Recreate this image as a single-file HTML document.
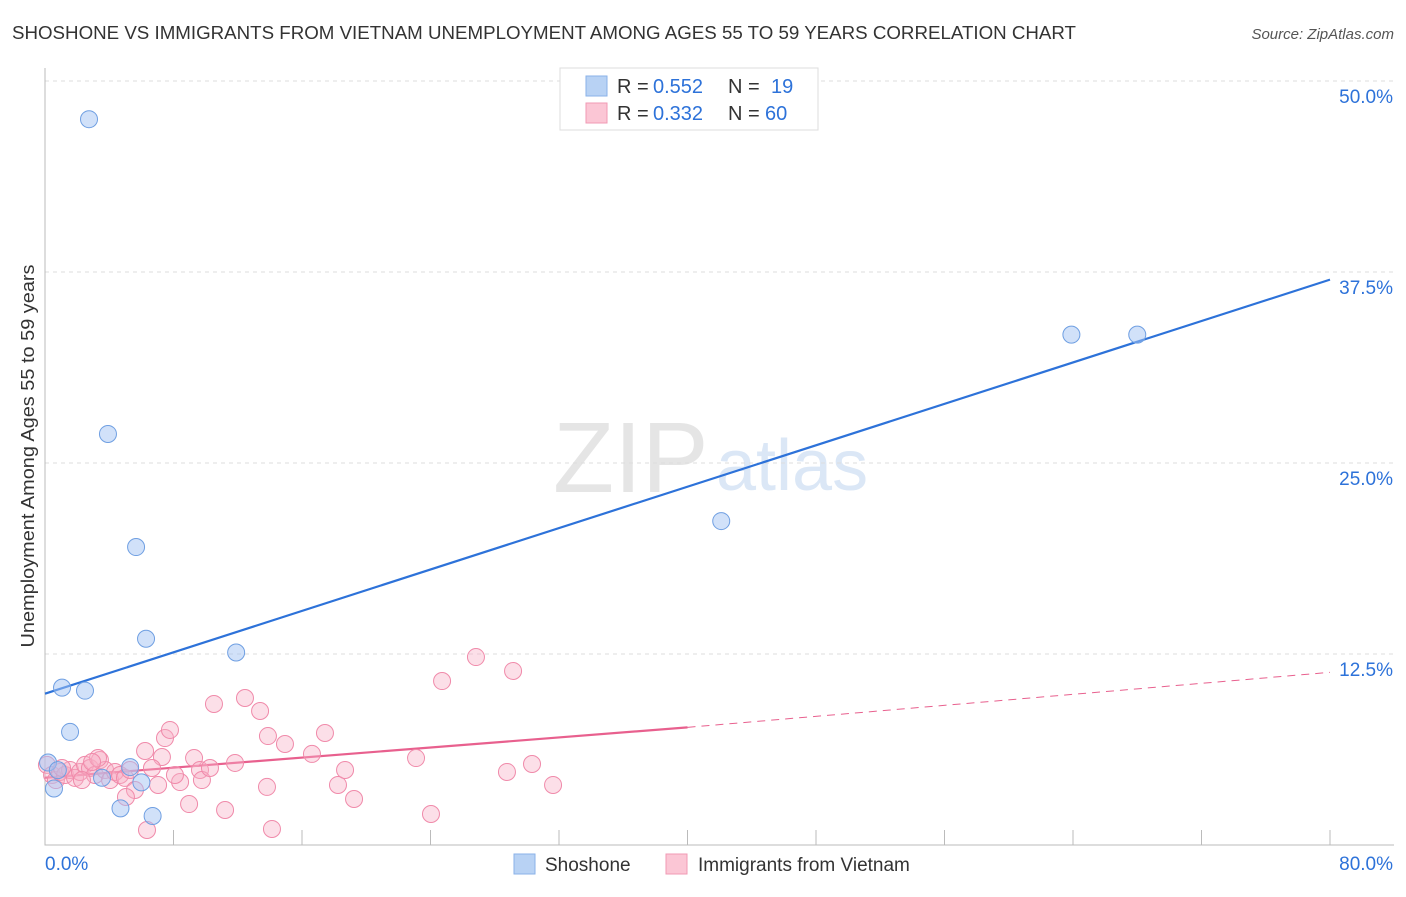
<!DOCTYPE html>
<html><head><meta charset="utf-8"><style>
body{margin:0;background:#fff;font-family:"Liberation Sans",sans-serif;}
svg text{font-family:"Liberation Sans",sans-serif;}
</style></head><body>
<svg id="chart" width="1406" height="892" xmlns="http://www.w3.org/2000/svg">
<text x="12" y="39" font-size="18" fill="#333" textLength="1064" lengthAdjust="spacingAndGlyphs">SHOSHONE VS IMMIGRANTS FROM VIETNAM UNEMPLOYMENT AMONG AGES 55 TO 59 YEARS CORRELATION CHART</text>
<text x="1394" y="39" font-size="15" fill="#555" text-anchor="end" font-style="italic">Source: ZipAtlas.com</text>
<text transform="translate(34,456) rotate(-90)" font-size="18" fill="#333" text-anchor="middle" textLength="383" lengthAdjust="spacingAndGlyphs">Unemployment Among Ages 55 to 59 years</text>
<g opacity="0.5">
<text x="553" y="492" font-size="100" fill="#ccc" font-family="Liberation Serif">ZIP</text>
<text x="716" y="490" font-size="72" fill="#b9d0ee">atlas</text>
</g>
<g id="grid"></g><g id="axes"></g><g id="lines"></g><g id="pts"></g>
<g>
<rect x="560" y="68" width="258" height="62" fill="#fff" stroke="#ddd"/>
<rect x="586" y="76" width="21" height="20" fill="#b8d2f4" stroke="#8ab2e8"/>
<rect x="586" y="103" width="21" height="20" fill="#fbc6d5" stroke="#f09ab4"/>
<text x="617" y="93" font-size="20" fill="#333">R =</text>
<text x="653" y="93" font-size="20" fill="#2d72d9">0.552</text>
<text x="728" y="93" font-size="20" fill="#333">N =</text>
<text x="771" y="93" font-size="20" fill="#2d72d9">19</text>
<text x="617" y="120" font-size="20" fill="#333">R =</text>
<text x="653" y="120" font-size="20" fill="#2d72d9">0.332</text>
<text x="728" y="120" font-size="20" fill="#333">N =</text>
<text x="765" y="120" font-size="20" fill="#2d72d9">60</text>
</g>
<g>
<rect x="514" y="854" width="21" height="20" fill="#b8d2f4" stroke="#8ab2e8"/>
<text x="545" y="871" font-size="19" fill="#333">Shoshone</text>
<rect x="666" y="854" width="21" height="20" fill="#fbc6d5" stroke="#f09ab4"/>
<text x="698" y="871" font-size="19" fill="#333">Immigrants from Vietnam</text>
</g>
</svg>
<script>
const yTicks=[12.5,25,37.5,50];
const yTickLabels=["12.5%","25.0%","37.5%","50.0%"];
const xTickVals=[0,8,16,24,32,40,48,56,64,72,80];
const shoshoneX=[2.74,3.92,5.67,6.29,11.9,1.06,2.49,1.56,42.1,63.9,68.0,0.19,0.56,3.55,5.3,6.0,4.7,6.7,0.8];
const shoshoneY=[47.5,26.9,19.5,13.5,12.6,10.3,10.1,7.4,21.2,33.4,33.4,5.4,3.7,4.4,5.1,4.1,2.4,1.9,4.9];
const vietX=[0.12,0.44,0.68,0.93,1.25,1.56,1.87,2.18,2.49,2.80,3.11,3.42,3.74,4.05,4.36,4.67,4.98,5.29,2.30,3.30,6.23,7.47,7.78,7.28,6.66,7.04,5.60,5.04,6.35,8.97,8.41,8.09,9.28,9.65,9.77,10.27,10.52,11.21,11.83,12.45,13.39,13.88,13.82,14.13,14.94,16.62,17.43,18.24,18.68,19.24,23.10,24.03,24.72,26.83,28.76,29.14,30.32,31.63,1.06,2.93];
const vietY=[5.24,4.58,4.25,4.78,4.58,4.91,4.39,4.78,5.24,5.04,4.58,5.56,4.91,4.25,4.78,4.58,4.39,4.91,4.25,5.69,6.15,7.00,7.53,5.76,5.04,3.93,3.60,3.14,0.98,2.68,4.12,4.58,5.69,4.91,4.25,5.04,9.23,2.29,5.37,9.62,8.77,7.13,3.80,1.05,6.61,5.96,7.33,3.93,4.91,3.01,5.69,2.03,10.73,12.30,4.78,11.39,5.30,3.93,5.04,5.43];
const blueLine=[9.9,37.0];
const pinkLine=[4.4,7.7,11.3];
const X=v=>45+v/80*1285, Y=v=>845-v*15.28;
const NS="http://www.w3.org/2000/svg";
function mk(p,t,a){const e=document.createElementNS(NS,t);for(const k in a)e.setAttribute(k,a[k]);document.getElementById(p).appendChild(e);return e;}
yTicks.forEach((v,i)=>{
 const g=mk('grid','line',{x1:45,x2:1394,y1:Y(v),y2:Y(v),stroke:'#ddd','stroke-dasharray':'4,4'});
 
 
 const t=mk('grid','text',{x:1393,y:Y(v)+22,'font-size':19,fill:'#2d72d9','text-anchor':'end'});
 t.textContent=yTickLabels[i];
 
 
});
const ax=mk('axes','path',{d:'M45 68V845H1394',stroke:'#bbb',fill:'none'});


xTickVals.forEach(v=>{const t=mk('axes','line',{x1:X(v),x2:X(v),y1:830,y2:845,stroke:'#bbb'});
 
 });
const xl0=mk('axes','text',{x:45,y:870,'font-size':19,fill:'#2d72d9'});xl0.textContent='0.0%';


const xl1=mk('axes','text',{x:1393,y:870,'font-size':19,fill:'#2d72d9','text-anchor':'end'});xl1.textContent='80.0%';


vietX.forEach((v,i)=>{const c=mk('pts','circle',{cx:X(v),cy:Y(vietY[i]),r:8.5,fill:'rgba(248,175,198,0.4)',stroke:'#f08aaa','stroke-width':1});
 
 });
shoshoneX.forEach((v,i)=>{const c=mk('pts','circle',{cx:X(v),cy:Y(shoshoneY[i]),r:8.5,fill:'rgba(164,196,244,0.5)',stroke:'#6f9fe2','stroke-width':1});
 
 });
const bl=mk('lines','line',{x1:X(0),y1:Y(blueLine[0]),x2:X(80),y2:Y(blueLine[1]),stroke:'#2d72d9','stroke-width':2.2});


const pl=mk('lines','line',{x1:X(0),y1:Y(pinkLine[0]),x2:X(40),y2:Y(pinkLine[1]),stroke:'#e8608e','stroke-width':2.2});


const pd=mk('lines','line',{x1:X(40),y1:Y(pinkLine[1]),x2:X(80),y2:Y(pinkLine[2]),stroke:'#e8608e','stroke-width':1,'stroke-dasharray':'8,6'});


</script>
</body></html>
